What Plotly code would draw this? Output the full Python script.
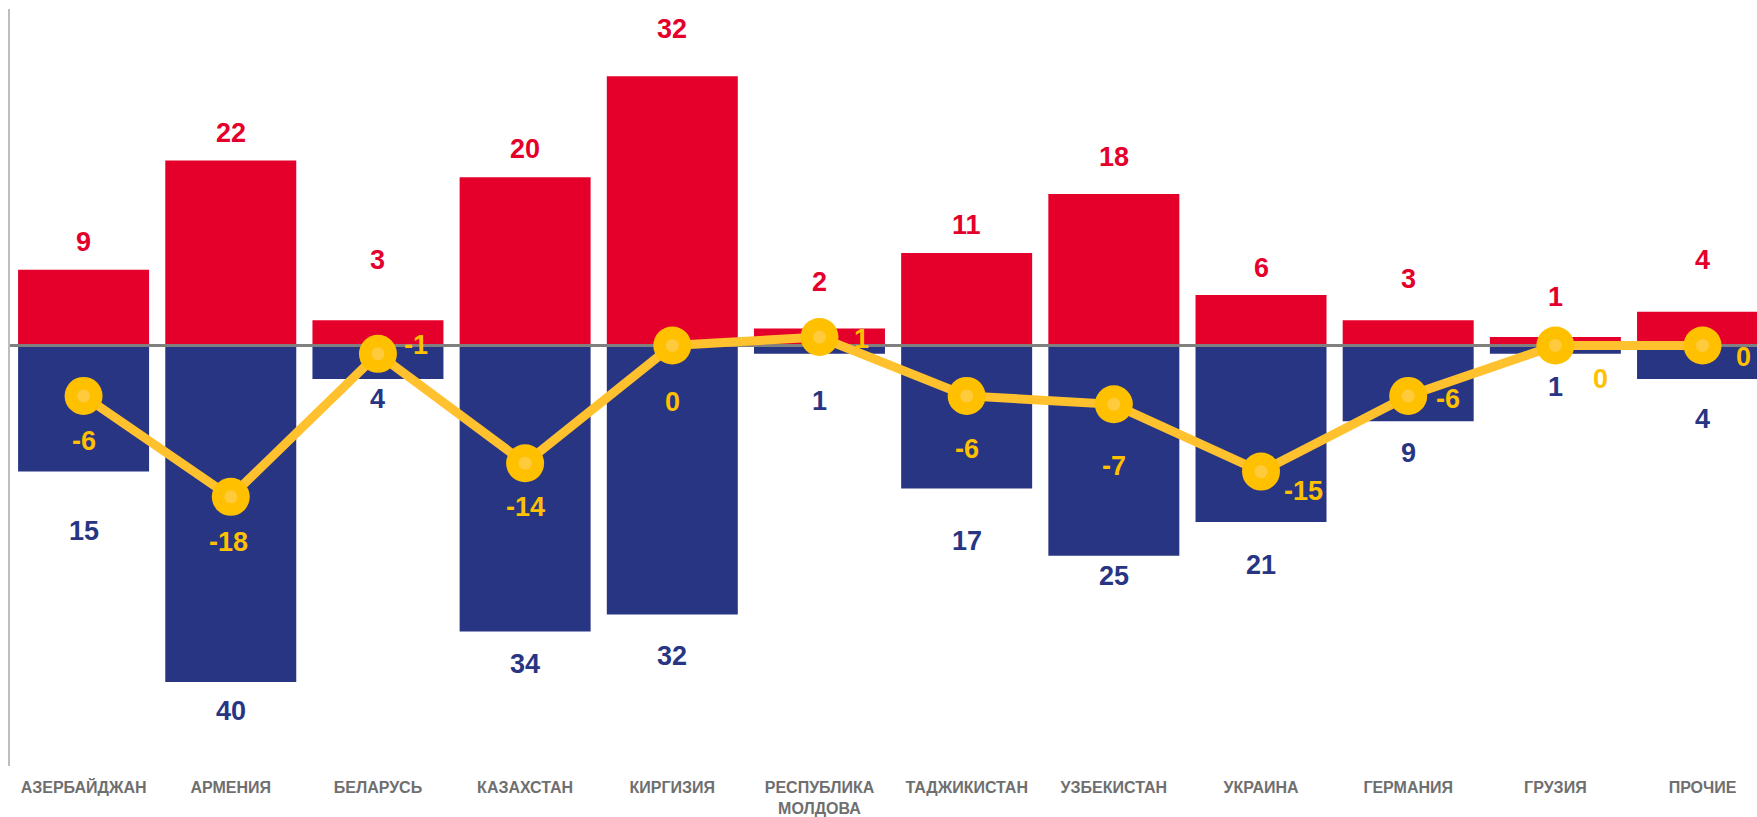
import plotly.graph_objects as go

# ---- data ----
categories = ["АЗЕРБАЙДЖАН", "АРМЕНИЯ", "БЕЛАРУСЬ", "КАЗАХСТАН", "КИРГИЗИЯ",
              "РЕСПУБЛИКА<br>МОЛДОВА", "ТАДЖИКИСТАН", "УЗБЕКИСТАН", "УКРАИНА",
              "ГЕРМАНИЯ", "ГРУЗИЯ", "ПРОЧИЕ"]
arrivals = [9, 22, 3, 20, 32, 2, 11, 18, 6, 3, 1, 4]
departures = [15, 40, 4, 34, 32, 1, 17, 25, 21, 9, 1, 4]
net = [-6, -18, -1, -14, 0, 1, -6, -7, -15, -6, 0, 0]

# ---- label placement (pixel offsets, not data) ----
red_up = [27.5, 27.5, 60.5, 28, 47, 46.5, 27.5, 37, 27, 41, 40, 52]
blue_down = [59, 29.5, 19.5, 32.5, 41.5, 47, 53, 20, 42.5, 32, 33, 39.5]
yel_dx = [0, -2, 38, 0, 0, 42, 0, 0, 42, 40, 45, 41]
yel_dy = [45, 45, -8.5, 44, 56.7, 1.5, 52.7, 61.7, 19, 3.5, 34, 12]

RED = "#E4002B"
BLUE = "#283583"
YEL = "#FFC000"
YEL_LINE = "#FFC12E"
GRAY_TXT = "#6F6F6F"
FONT = "Arial, Liberation Sans, sans-serif"

idx = list(range(len(categories)))
x_range = [-0.5, 11.37]
y_range = [-50, 40]

fig = go.Figure()
fig.add_trace(go.Bar(x=idx, y=arrivals, marker=dict(color=RED, line=dict(width=0)),
                     width=0.89, hoverinfo="skip"))
fig.add_trace(go.Bar(x=idx, y=[-v for v in departures], marker=dict(color=BLUE, line=dict(width=0)),
                     width=0.89, hoverinfo="skip"))
# zero reference line
fig.add_trace(go.Scatter(x=[x_range[0], x_range[1] + 1], y=[0, 0], mode="lines",
                         line=dict(color="#808080", width=3), hoverinfo="skip"))
# net line
fig.add_trace(go.Scatter(x=idx, y=net, mode="lines+markers",
                         line=dict(color=YEL_LINE, width=9),
                         marker=dict(color=YEL, size=38, line=dict(width=0)),
                         hoverinfo="skip"))
fig.add_trace(go.Scatter(x=idx, y=net, mode="markers",
                         marker=dict(color="#FFCA3C", size=13, line=dict(width=0)),
                         hoverinfo="skip"))

ann = []
for i in idx:
    ann.append(dict(x=i, y=arrivals[i], text=str(arrivals[i]), showarrow=False,
                    xanchor="center", yanchor="middle", yshift=red_up[i],
                    font=dict(family=FONT, size=27, color=RED, weight="bold")))
    ann.append(dict(x=i, y=-departures[i], text=str(departures[i]), showarrow=False,
                    xanchor="center", yanchor="middle", yshift=-blue_down[i],
                    font=dict(family=FONT, size=27, color=BLUE, weight="bold")))
    ann.append(dict(x=i, y=net[i], text=str(net[i]), showarrow=False,
                    xanchor="center", yanchor="middle", xshift=yel_dx[i], yshift=-yel_dy[i],
                    font=dict(family=FONT, size=27, color=YEL, weight="bold")))

fig.update_layout(
    width=1757, height=817,
    margin=dict(l=10, r=0, t=9, b=51, autoexpand=False),
    paper_bgcolor="white", plot_bgcolor="white",
    showlegend=False, barmode="relative", bargap=0.11,
    annotations=ann,
    xaxis=dict(range=x_range, tickmode="array", tickvals=idx, ticktext=categories,
               showgrid=False, zeroline=False, showline=False, ticks="",
               automargin=False, ticklabelstandoff=10,
               tickfont=dict(family=FONT, size=16, color=GRAY_TXT, weight="bold")),
    yaxis=dict(range=y_range, showgrid=False, zeroline=False, showticklabels=False,
               automargin=False,
               showline=True, linecolor="#BDBDBD", linewidth=2, ticks=""),
)

fig.write_html("out.html", config={"displayModeBar": False},
               post_script="document.body.style.margin='0';document.body.style.overflow='hidden';")
